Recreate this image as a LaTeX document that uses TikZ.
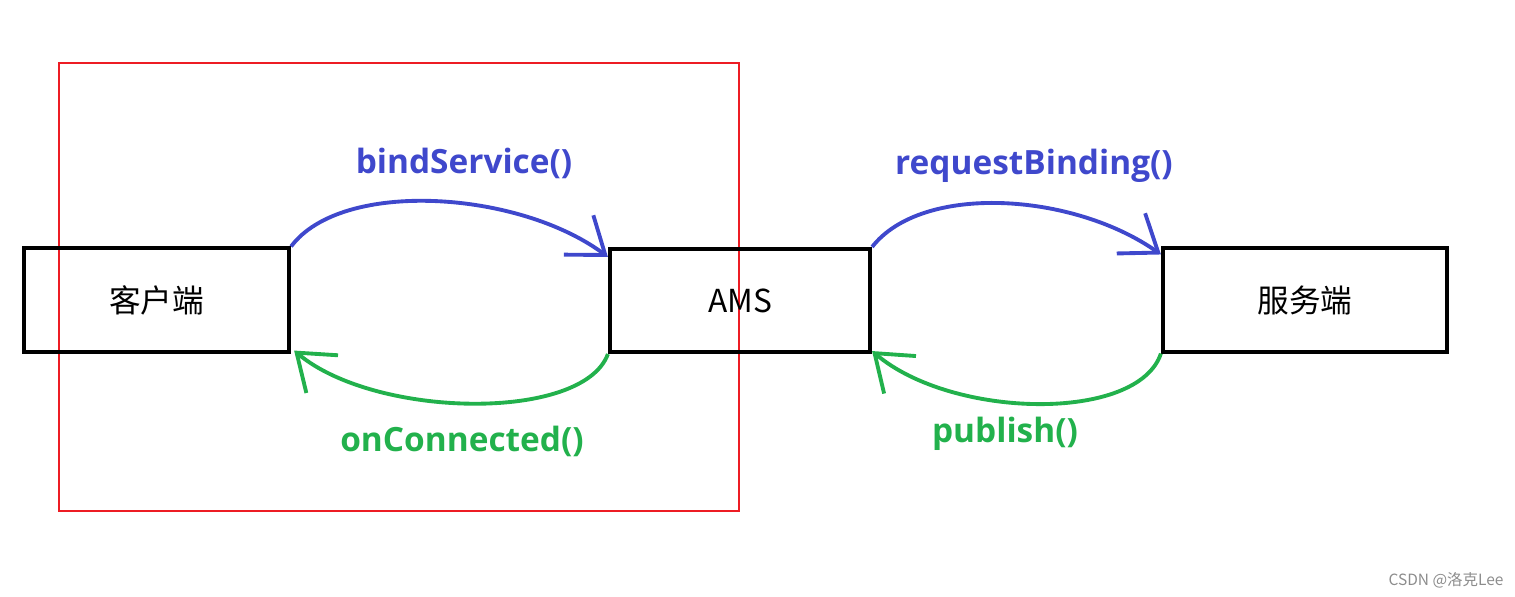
\documentclass[tikz,border=0pt]{standalone}
\usepackage{fontspec}
\setmainfont{Noto Sans CJK SC}
\newfontfamily\labelfont{Open Sans}
\usepackage{tikz}
\usetikzlibrary{arrows.meta}
\definecolor{paintblue}{HTML}{3F48CC}
\definecolor{paintgreen}{HTML}{22B14C}
\definecolor{paintred}{HTML}{ED1C24}
\tikzstyle{box}=[rectangle, draw=black, line width=1.15pt, minimum height=1.03cm, inner sep=0pt, font=\fontsize{9}{9}\selectfont]
\tikzstyle{call}=[line width=1.1pt, -{Straight Barb[length=9.5pt, width=14pt, line width=1.1pt]}]
\tikzstyle{lbl}=[anchor=base, inner sep=0pt, font=\labelfont\bfseries\fontsize{9.5}{9.5}\selectfont]

\begin{document}
\begin{tikzpicture}[x=0.01cm, y=-0.01cm]
            \useasboundingbox (0,0) rectangle (1515,597);
            % Rahmen
            \draw[paintred, line width=0.7pt] (59,63) rectangle (739,511);
            % Kästen
            \node[box, minimum width=2.65cm] (client) at (156.5,300) {客户端};
            \node[box, minimum width=2.6cm] (ams) at (740,300.5) {AMS};
            \node[box, minimum width=2.84cm] (server) at (1305,300) {服务端};
            % Aufrufe
            \draw[call, paintblue] (client.north east) .. controls +(51,-68) and +(-88,-66) .. ([yshift=-0.1cm]ams.north west);
            \draw[call, paintblue] (ams.north east) .. controls +(50,-64) and +(-88,-62) .. ([yshift=-0.08cm]server.north west);
            \draw[call, paintgreen] (ams.south west) .. controls +(-25,68) and +(81,68) .. ([xshift=0.03cm,yshift=0.03cm]client.south east);
            \draw[call, paintgreen] (server.south west) .. controls +(-23,69) and +(80,68) .. ([yshift=0.03cm]ams.south east);
            % Beschriftungen
            \node[lbl, paintblue] (bind) at (464,173) {bindService()};
            \node[lbl, paintblue] (req) at (1034,174) {requestBinding()};
            \node[lbl, paintgreen] (conn) at (462,451) {onConnected()};
            \node[lbl, paintgreen] (pub) at (1005,442) {publish()};
            \node[anchor=base, inner sep=0pt, text=black!45, font=\fontsize{4.4}{4.4}\selectfont] (mark) at (1446,585) {CSDN @洛克Lee};
        \end{tikzpicture}
\end{document}
